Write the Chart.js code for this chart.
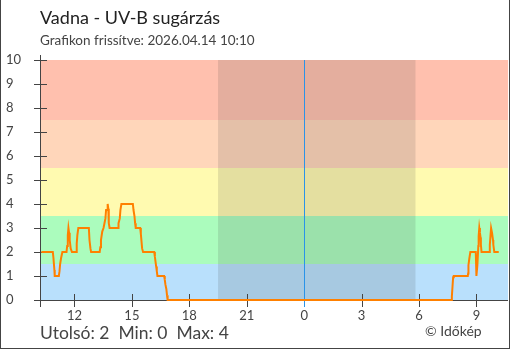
<!DOCTYPE html>
<html>
<head>
<meta charset="utf-8">
<script src="https://cdn.jsdelivr.net/npm/chart.js@4.4.1/dist/chart.umd.min.js"></script>
<style>
  html, body { margin: 0; padding: 0; background: #fff; }
  #wrap { position: relative; width: 510px; height: 350px; overflow: hidden; font-family: Lato, "Open Sans", sans-serif; }
  #uvChart { position: absolute; left: 0; top: 0; }
  .frame { position: absolute; left: 0; top: 0; width: 508px; height: 348px; border: 1px solid #444; border-top: none; }
  .txt { position: absolute; white-space: pre; }
  #title { left: 40px; top: 6px; font-size: 18px; color: #222; }
  #updated { left: 40px; top: 32px; font-size: 13.5px; color: #444; }
  #summary { left: 40px; top: 322px; font-size: 17.5px; color: #444; }
  #credit { left: 425px; top: 322px; font-size: 14px; color: #444; }
</style>
</head>
<body>
<div id="wrap">
  <canvas id="uvChart" width="510" height="350"></canvas>
  <div class="frame"></div>
  <div class="txt" id="title">Vadna - UV-B sugárzás</div>
  <div class="txt" id="updated">Grafikon frissítve: 2026.04.14 10:10</div>
  <div class="txt" id="summary"></div>
  <div class="txt" id="credit">© Időkép</div>
</div>
<script>
// --- DATA ---
// measurement times (chronological, crossing midnight) and UV index values
const uvTimes = [
  '10:16', '10:52', '10:54', '10:57', '10:58', '11:11', '11:13', '11:15', '11:18', '11:22',
  '11:35', '11:37', '11:39', '11:41', '11:43', '11:45', '11:48', '11:52', '12:05', '12:07',
  '12:09', '12:12', '12:45', '12:47', '12:50', '12:52', '13:19', '13:21', '13:23', '13:27',
  '13:31', '13:34', '13:37', '13:39', '13:42', '13:44', '13:46', '13:47', '13:48', '13:50',
  '14:17', '14:18', '14:22', '14:24', '14:27', '15:03', '15:05', '15:08', '15:10', '15:12',
  '15:26', '15:28', '15:30', '15:32', '15:35', '16:10', '16:12', '16:14', '16:16', '16:18',
  '16:20', '16:41', '16:43', '16:45', '16:48', '16:50', '16:52',
  '07:42', '07:43', '07:45', '07:47', '07:49', '08:33', '08:34', '08:35', '08:38', '08:41',
  '08:58', '09:00', '09:03', '09:06', '09:07', '09:09', '09:11', '09:13', '09:14', '09:16',
  '09:40', '09:42', '09:44', '09:46', '09:49', '09:52', '09:53', '09:56', '10:10'
];
const uvValues = [
  2, 2, 1.75, 1.25, 1, 1, 1.2, 1.5, 1.75, 2,
  2, 2.25, 2.7, 3, 2.8, 2.5, 2.15, 2, 2, 2.35,
  2.7, 3, 3, 2.5, 2.15, 2, 2, 2.2, 2.5, 2.85,
  3, 3.2, 3.4, 3.75, 3.75, 4, 3.8, 3.5, 3.2, 3,
  3, 3.2, 3.4, 3.75, 4, 4, 3.75, 3.5, 3.2, 3,
  3, 2.75, 2.45, 2.15, 2, 2, 1.8, 1.6, 1.4, 1.2,
  1, 1, 0.85, 0.65, 0.45, 0.2, 0,
  0, 0.15, 0.55, 0.95, 1, 1, 1.1, 1.45, 1.75, 2,
  2, 1, 1.45, 2.25, 2.65, 3, 2.8, 2.6, 2.3, 2,
  2, 2.3, 2.65, 3, 2.8, 2.5, 2.3, 2, 2
];

// x axis: hours relative to midnight
const tickHours = [-12, -9, -6, -3, 0, 3, 6, 9];
const tickLabels = ['12', '15', '18', '21', '0', '3', '6', '9'];
const rangeStart = '10:15';
const rangeEnd = '10:39';

// dark period
const sunset = '19:30';
const sunrise = '05:49';

// UV categories
const bandEdges = [0, 1.5, 3.5, 5.5, 7.5, 10];
const bandColors = ['#b9e0fc', '#abfcbd', '#fffab0', '#ffd6ba', '#ffc0ae'];

// --- HELPERS ---
function clock(t) {
  const [h, m] = t.split(':').map(Number);
  return h + m / 60;
}

// hours relative to today's midnight; times before the wrap belong to yesterday
function seriesHours(times) {
  let day = -24, prev = -1;
  return times.map(t => {
    const h = clock(t);
    if (h < prev) day = 0;
    prev = h;
    return h + day;
  });
}

const hours = seriesHours(uvTimes);
const points = hours.map((h, i) => ({ x: h, y: uvValues[i] }));

document.getElementById('summary').textContent =
  'Utolsó: ' + uvValues[uvValues.length - 1] +
  '  Min: ' + Math.min(...uvValues) +
  '  Max: ' + Math.max(...uvValues);

// --- BACKGROUND, AXES ---
const uvBackground = {
  id: 'uvBackground',
  beforeDatasetsDraw(chart) {
    const { ctx, chartArea: a, scales: { x, y } } = chart;
    ctx.save();

    for (let i = 0; i < bandColors.length; i++) {
      const top = y.getPixelForValue(bandEdges[i + 1]);
      const bottom = y.getPixelForValue(bandEdges[i]);
      ctx.fillStyle = bandColors[i];
      ctx.fillRect(a.left, top, a.right - a.left, bottom - top);
    }

    const n0 = x.getPixelForValue(clock(sunset) - 24);
    const n1 = x.getPixelForValue(clock(sunrise));
    ctx.fillStyle = 'rgba(66,66,66,0.14)';
    ctx.fillRect(n0, a.top, n1 - n0, a.bottom - a.top);

    // midnight
    const mx = Math.round(x.getPixelForValue(0)) + 0.5;
    ctx.strokeStyle = '#2a93e8';
    ctx.lineWidth = 1;
    ctx.beginPath();
    ctx.moveTo(mx, a.top);
    ctx.lineTo(mx, a.bottom + 7);
    ctx.stroke();

    // axis lines and ticks
    ctx.strokeStyle = '#444';
    ctx.beginPath();
    const ax = a.left - 0.5;
    const ay = a.bottom + 0.5;
    ctx.moveTo(ax, a.top - 5);
    ctx.lineTo(ax, a.bottom + 7);
    ctx.moveTo(a.left - 7, ay);
    ctx.lineTo(a.right, ay);
    y.ticks.forEach(t => {
      const py = Math.round(y.getPixelForValue(t.value)) + 0.5;
      ctx.moveTo(a.left - 7, py);
      ctx.lineTo(a.left + 6, py);
    });
    tickHours.forEach(h => {
      if (h === 0) return;
      const px = Math.round(x.getPixelForValue(h)) + 0.5;
      ctx.moveTo(px, a.bottom - 6);
      ctx.lineTo(px, a.bottom + 7);
    });
    ctx.stroke();
    ctx.restore();
  }
};

// --- CHART ---
new Chart(document.getElementById('uvChart'), {
  type: 'line',
  data: {
    datasets: [{
      label: 'UV-B',
      data: points,
      borderColor: '#ff8000',
      borderWidth: 2,
      pointRadius: 0,
      tension: 0,
      clip: false
    }]
  },
  options: {
    responsive: false,
    animation: false,
    layout: { padding: { left: 6, top: 60, right: 2, bottom: 0 } },
    plugins: {
      legend: { display: false },
      tooltip: { enabled: false }
    },
    scales: {
      x: {
        type: 'linear',
        min: clock(rangeStart) - 24,
        max: clock(rangeEnd),
        grid: { display: false, drawTicks: false },
        border: { display: false },
        afterBuildTicks: s => { s.ticks = tickHours.map(v => ({ value: v })); },
        afterFit: s => { s.height = 50; },
        ticks: {
          autoSkip: false,
          maxRotation: 0,
          padding: 8,
          color: '#444',
          font: { family: 'Lato', size: 13 },
          callback: v => tickLabels[tickHours.indexOf(v)]
        }
      },
      y: {
        min: 0,
        max: 10,
        grid: { display: false, drawTicks: false },
        border: { display: false },
        afterFit: s => { s.width = 35; },
        ticks: {
          stepSize: 1,
          crossAlign: 'far',
          padding: 0,
          color: '#444',
          font: { family: 'Lato', size: 13 }
        }
      }
    }
  },
  plugins: [uvBackground]
});
</script>
</body>
</html>
